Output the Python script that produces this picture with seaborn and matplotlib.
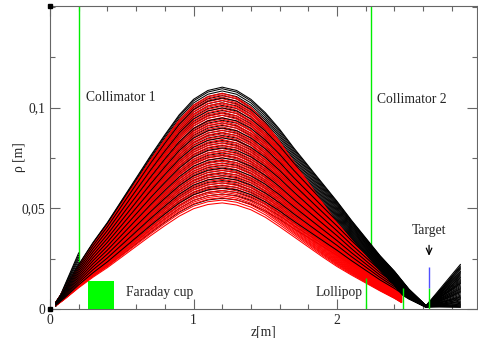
import numpy as np
import pandas as pd
import seaborn as sns
import matplotlib.pyplot as plt
from matplotlib.patches import Rectangle
from matplotlib.ticker import MultipleLocator, FixedLocator, FuncFormatter


OUTPNG = 'out.png'
FONT = ['Liberation Serif', 'DejaVu Serif']

# beam envelope profile (fraction of each track's peak)
Z_NODES = [0.04, 0.1, 0.2, 0.3, 0.4, 0.5, 0.6, 0.7, 0.8, 0.9, 1.0, 1.1, 1.2,
           1.3, 1.4, 1.5, 1.6, 1.7, 1.8, 1.9, 2.0, 2.1, 2.2, 2.3, 2.4, 2.5,
           2.62]
BLACK_SHAPE = [0.03, 0.09, 0.20, 0.30, 0.39, 0.49, 0.59, 0.69, 0.785, 0.875,
               0.945, 0.985, 1.00, 0.985, 0.945, 0.885, 0.81, 0.725, 0.645,
               0.565, 0.485, 0.40, 0.32, 0.24, 0.17, 0.09, 0.015]
RED_Z = [0.04, 0.1, 0.2, 0.3, 0.4, 0.5, 0.6, 0.7, 0.8, 0.9, 1.0, 1.1, 1.2,
         1.3, 1.4, 1.5, 1.6, 1.7, 1.8, 1.9, 2.0, 2.1, 2.2, 2.3, 2.4, 2.45]
RED_SHAPE = [0.03, 0.09, 0.20, 0.30, 0.39, 0.49, 0.59, 0.69, 0.785, 0.875,
             0.945, 0.985, 1.00, 0.98, 0.935, 0.865, 0.775, 0.68, 0.585,
             0.49, 0.40, 0.32, 0.245, 0.17, 0.10, 0.06]
Z_EXIT = 2.86

BLACK_PEAKS = [0.1102, 0.1094, 0.1083, 0.1071, 0.1060, 0.1048, 0.1035, 0.1024,
               0.1011, 0.0999, 0.0986, 0.0974, 0.0962, 0.0949, 0.0937, 0.0924,
               0.0912, 0.0899, 0.0887, 0.0875, 0.0862, 0.0850, 0.0837, 0.0825,
               0.0812, 0.0800, 0.0787, 0.0775, 0.0763, 0.0750, 0.0738, 0.0725,
               0.0713, 0.0700, 0.0688, 0.0676, 0.0663, 0.0651, 0.0638, 0.0626,
               0.0613, 0.0601, 0.0588, 0.0571, 0.0550]
BLACK_EXIT = [0.0222, 0.0052, 0.0187, 0.0021, 0.0164, 0.0098, 0.0208, 0.0036,
              0.0142, 0.0075, 0.0195, 0.0012, 0.0119, 0.0060, 0.0176, 0.0088,
              0.0028, 0.0154, 0.0107, 0.0045, 0.0132, 0.0016, 0.0069, 0.0201,
              0.0081, 0.0125, 0.0033, 0.0148, 0.0057, 0.0170, 0.0093, 0.0008,
              0.0113, 0.0040, 0.0183, 0.0064, 0.0137, 0.0024, 0.0158, 0.0102,
              0.0049, 0.0214, 0.0085, 0.0128, 0.0019]
RED_PEAKS = [0.1072, 0.1064, 0.1053, 0.1045, 0.1036, 0.1025, 0.1018, 0.1007,
             0.0998, 0.0990, 0.0979, 0.0971, 0.0962, 0.0951, 0.0944, 0.0933,
             0.0925, 0.0916, 0.0905, 0.0897, 0.0888, 0.0878, 0.0870, 0.0859,
             0.0852, 0.0842, 0.0833, 0.0824, 0.0815, 0.0806, 0.0797, 0.0787,
             0.0779, 0.0769, 0.0761, 0.0752, 0.0742, 0.0734, 0.0724, 0.0716,
             0.0706, 0.0697, 0.0689, 0.0679, 0.0671, 0.0661, 0.0652, 0.0644,
             0.0634, 0.0626, 0.0616, 0.0607, 0.0599, 0.0589, 0.0581, 0.0571,
             0.0562, 0.0553, 0.0541, 0.0527]

# tracks lost on collimator 1
STOPPED_Z = [0.04, 0.2]
STOPPED_START = 0.0015
STOPPED_RHO = [0.0205, 0.0218, 0.0231, 0.0244, 0.0256, 0.0268, 0.0279]

# beam line elements
COLL1_Z, COLL1_APERTURE = 0.202, 0.022
COLL2_Z, COLL2_APERTURE = 2.237, 0.028
LOLLIPOP_Z, LOLLIPOP_TOP = 2.20, 0.0155
STOP_Z, STOP_TOP = 2.46, 0.0104
TARGET_Z, TARGET_LOW, TARGET_TOP = 2.641, 0.0104, 0.021
FARADAY = (0.262, 0.184, 0.0141)  # z, width, height

XMAX, YMAX = 2.975, 0.1505
Y_TICKS = [0, 0.05, 0.1]


def _tracks():
    rows = []
    for i, (peak, end) in enumerate(zip(BLACK_PEAKS, BLACK_EXIT)):
        for z, s in zip(Z_NODES, BLACK_SHAPE):
            rows.append((f'b{i}', 'black', z, peak * s))
        rows.append((f'b{i}', 'black', Z_EXIT, end))
    for i, rho in enumerate(STOPPED_RHO):
        rows.append((f's{i}', 'black', STOPPED_Z[0], STOPPED_START))
        rows.append((f's{i}', 'black', STOPPED_Z[1], rho))
    for i, peak in enumerate(RED_PEAKS):
        for z, s in zip(RED_Z, RED_SHAPE):
            rows.append((f'r{i}', 'red', z, peak * s))
    return pd.DataFrame(rows, columns=['track', 'kind', 'z', 'rho'])


def _draw_order():
    # most black tracks under the red ones, a few on top as streaks
    black = [f'b{i}' for i in range(len(BLACK_PEAKS))]
    stopped = [f's{i}' for i in range(len(STOPPED_RHO))]
    red = [f'r{i}' for i in range(len(RED_PEAKS))]
    under = [b for i, b in enumerate(black) if i % 4 != 1]
    over = [b for i, b in enumerate(black) if i % 4 == 1]
    return under + stopped + red + over


def _elements(ax):
    green = '#00ee00'
    ax.vlines(COLL1_Z, COLL1_APERTURE, YMAX, color=green, lw=1.0, zorder=1)
    ax.vlines(COLL2_Z, COLL2_APERTURE, YMAX, color=green, lw=1.0, zorder=1)
    ax.vlines(LOLLIPOP_Z, 0, LOLLIPOP_TOP, color=green, lw=1.0, zorder=3)
    ax.vlines(STOP_Z, 0, STOP_TOP, color=green, lw=1.0, zorder=3)
    ax.vlines(TARGET_Z, 0, TARGET_LOW, color=green, lw=1.0, zorder=3)
    ax.vlines(TARGET_Z, TARGET_LOW, TARGET_TOP, color='#5050ff', lw=1.0,
              zorder=3)
    ax.add_patch(Rectangle((FARADAY[0], 0), FARADAY[1], FARADAY[2],
                           color='#00ff00', lw=0, zorder=3))

    kw = dict(fontsize=9.8, family=FONT, va='center')
    ax.text(0.25, 0.105, 'Collimator 1', **kw)
    ax.text(2.28, 0.104, 'Collimator 2', **kw)
    ax.text(0.53, 0.008, 'Faraday cup', **kw)
    ax.text(2.18, 0.008, 'Lollipop', ha='right', **kw)
    ax.text(TARGET_Z, 0.0392, 'Target', ha='center', **kw)
    ax.annotate('', xy=(TARGET_Z, 0.0250), xytext=(TARGET_Z, 0.0330),
                arrowprops=dict(arrowstyle='->,head_length=0.45,head_width=0.2',
                                lw=0.9, color='black'))


def main():
    sns.set_style('ticks')
    plt.rcParams['font.family'] = FONT

    fig = plt.figure(figsize=(4.78, 3.38), dpi=100)
    ax = fig.add_axes([50 / 478, 29 / 338, 427 / 478, 303 / 338])

    _elements(ax)

    df = _tracks()
    colours = {'black': 'black', 'red': '#ff0000'}
    palette = dict(zip(df['track'], df['kind'].map(colours)))
    sns.lineplot(data=df, x='z', y='rho', hue='track', hue_order=_draw_order(),
                 estimator=None, sort=False, palette=palette,
                 linewidth=0.75, legend=False, ax=ax, zorder=2)

    ax.set_xlim(0, XMAX)
    ax.set_ylim(0, YMAX)
    ax.plot([0, 0], [0, YMAX], 's', ms=2.5, color='black', clip_on=False,
            zorder=5)

    ax.xaxis.set_major_locator(MultipleLocator(1))
    ax.xaxis.set_minor_locator(MultipleLocator(0.2))
    ax.yaxis.set_major_locator(FixedLocator(Y_TICKS))
    ax.yaxis.set_minor_locator(MultipleLocator(0.025))
    comma = FuncFormatter(lambda v, p: ('%g' % round(v, 4)).replace('.', ','))
    ax.xaxis.set_major_formatter(comma)
    ax.yaxis.set_major_formatter(comma)
    ax.tick_params(which='both', direction='in', top=True, right=True,
                   color='#666666', width=0.8, labelsize=9.8)
    ax.tick_params(which='major', length=7)
    ax.tick_params(which='minor', length=3.5)
    for sp in ax.spines.values():
        sp.set_color('#666666')
        sp.set_linewidth(0.8)

    ax.set_xlabel('z[m]', fontsize=9.8, labelpad=-1)
    ax.set_ylabel('ρ [m]', fontsize=9.8, labelpad=-3)

    fig.savefig(OUTPNG, dpi=100)
    plt.close(fig)


if __name__ == '__main__':
    main()
